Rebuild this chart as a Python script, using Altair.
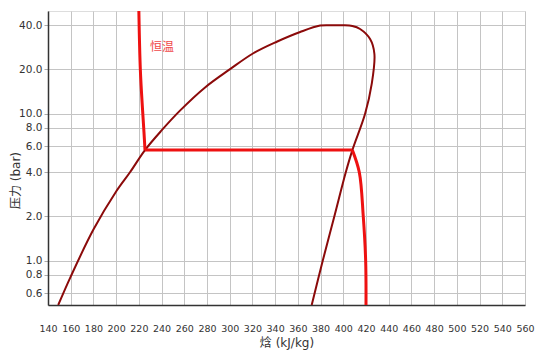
import altair as alt
import pandas as pd

# Saturation dome (enthalpy kJ/kg, pressure bar)
dome_h = [149, 160, 180, 200, 212.2, 225.4, 240, 256.2, 278.3, 300.3,
          320.8, 341.4, 362, 379.6, 390, 400, 408, 414.8, 423.6, 427.4, 425, 419.2,
          408, 402.2, 392.1, 381.9, 372.2]
dome_p = [0.5, 0.78, 1.63, 2.96, 4.0, 5.66, 7.7, 10.5, 15.1, 20.1,
          25.8, 30.9, 36.0, 39.8, 40.0, 40.0, 39.5, 37.7, 32.2, 25.5, 15.9, 10.0,
          5.66, 4.0, 2.0, 1.0, 0.5]

# Isotherm, drawn as three pieces (left branch, plateau, right branch)
iso_h = [220.0, 221.3, 223.3, 224.5, 225.4,
         225.4, 408,
         408, 414.1, 417.6, 419.7, 420.0]
iso_p = [50, 20, 10.5, 7.5, 5.66,
         5.66, 5.66,
         5.66, 4.0, 2.0, 1.0, 0.5]
iso_seg = ["a"] * 5 + ["b"] * 2 + ["c"] * 5

label_text = ["恒温"]
label_h = [240.4]
label_p = [28.6]

x_ticks = list(range(140, 561, 20))
y_ticks = [0.6, 0.8, 1.0, 2.0, 4.0, 6.0, 8.0, 10.0, 20.0, 40.0]

FONT = "'DejaVu Sans', 'Noto Sans CJK SC', sans-serif"

dome = pd.DataFrame({"h": dome_h, "p": dome_p, "i": range(len(dome_h))})
iso = pd.DataFrame({"h": iso_h, "p": iso_p, "s": iso_seg, "i": range(len(iso_h))})
lab = pd.DataFrame({"t": label_text, "h": label_h, "p": label_p})

xs = alt.Scale(domain=[140, 560], nice=False, zero=False)
ys = alt.Scale(type="log", domain=[0.5, 50], nice=False)

xaxis = alt.Axis(values=x_ticks, title="焓 (kJ/kg)", grid=True, gridColor="#c4c4c4",
                 gridWidth=1, ticks=False, labelPadding=18.5, labelOverlap=False,
                 labelFlush=False, labelFontSize=9.5, labelColor="#333", labelFont=FONT,
                 titleFont=FONT, titleFontSize=12, titleFontWeight="normal",
                 titleColor="#333", titleY=37, titleBaseline="middle",
                 domainColor="#333", domainWidth=1.5)
yaxis = alt.Axis(values=y_ticks, format=".1f", title="压力 (bar)", grid=True,
                 gridColor="#c4c4c4", gridWidth=1, tickSize=4, tickColor="#aaa",
                 labelPadding=2, labelOverlap=False, labelFlush=False,
                 labelFontSize=10.5, labelColor="#333", labelFont=FONT, titleFont=FONT,
                 titleFontSize=12, titleFontWeight="normal", titleColor="#333",
                 titleAngle=270, titleX=-33, titleY=169, titleAlign="center",
                 titleBaseline="middle", domainColor="#333", domainWidth=1.5)

dome_line = alt.Chart(dome).mark_line(color="#8b0a0a", strokeWidth=2,
                                      interpolate="catmull-rom", clip=True).encode(
    x=alt.X("h:Q", scale=xs, axis=xaxis),
    y=alt.Y("p:Q", scale=ys, axis=yaxis),
    order="i:Q",
)

iso_line = alt.Chart(iso).mark_line(color="#ee1111", strokeWidth=3,
                                    interpolate="catmull-rom", clip=True).encode(
    x=alt.X("h:Q", scale=xs, axis=xaxis),
    y=alt.Y("p:Q", scale=ys, axis=yaxis),
    detail="s:N",
    order="i:Q",
)

text = alt.Chart(lab).mark_text(color="#f04848", fontSize=12, font=FONT,
                                align="center", baseline="middle").encode(
    x=alt.X("h:Q", scale=xs, axis=xaxis),
    y=alt.Y("p:Q", scale=ys, axis=yaxis),
    text="t:N",
)

chart = alt.layer(dome_line, iso_line, text).properties(
    width=477, height=294,
    autosize=alt.AutoSizeParams(type="none"),
    padding={"left": 40, "top": 3, "right": 21, "bottom": 45},
).configure_view(stroke="#333", strokeWidth=1.5).configure_axis(
    labelOverlap=False
).configure(background="white")

chart.save("out.html", embed_options={"renderer": "svg", "actions": False})
